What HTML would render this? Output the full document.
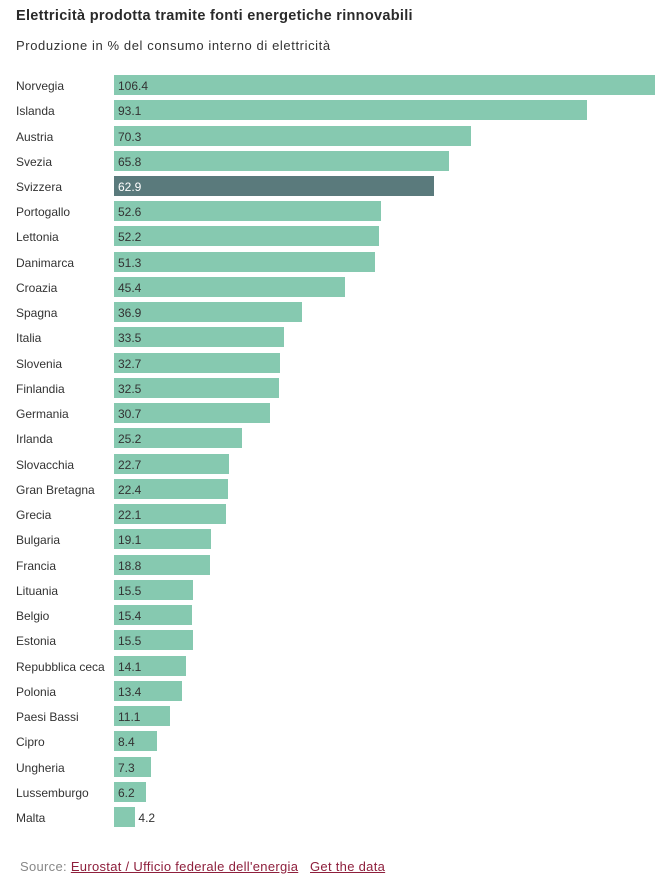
<!DOCTYPE html>
<html><head><meta charset="utf-8">
<style>
html,body{margin:0;padding:0;background:#fff;}
body{width:667px;height:886px;position:relative;overflow:hidden;font-family:"Liberation Sans",sans-serif;color:#333;}
.t{position:absolute;left:16px;top:8px;font-size:14.5px;font-weight:bold;color:#2a2a2a;white-space:nowrap;letter-spacing:0.3px;}
.s{position:absolute;left:16px;top:38px;font-size:13px;color:#333;white-space:nowrap;letter-spacing:0.6px;}
.l{position:absolute;left:16px;font-size:12px;line-height:20px;height:20px;white-space:nowrap;color:#333;}
.b{position:absolute;left:114px;height:20px;background:#86c9b0;}
.v{position:absolute;font-size:12px;line-height:20px;height:20px;white-space:nowrap;color:#333;}
.src{position:absolute;left:20px;top:859px;font-size:13px;color:#888;white-space:nowrap;letter-spacing:0.3px;}
.src a{color:#8e1f3c;text-decoration:underline;}
</style></head><body>
<div class="t">Elettricità prodotta tramite fonti energetiche rinnovabili</div>
<div class="s">Produzione in % del consumo interno di elettricità</div>
<div id="c"></div>
<div class="src">Source: <a>Eurostat / Ufficio federale dell'energia</a>&nbsp;&nbsp;&nbsp;<a>Get the data</a></div>
<script>
var d=[["Norvegia",106.4],["Islanda",93.1],["Austria",70.3],["Svezia",65.8],["Svizzera",62.9],["Portogallo",52.6],["Lettonia",52.2],["Danimarca",51.3],["Croazia",45.4],["Spagna",36.9],["Italia",33.5],["Slovenia",32.7],["Finlandia",32.5],["Germania",30.7],["Irlanda",25.2],["Slovacchia",22.7],["Gran Bretagna",22.4],["Grecia",22.1],["Bulgaria",19.1],["Francia",18.8],["Lituania",15.5],["Belgio",15.4],["Estonia",15.5],["Repubblica ceca",14.1],["Polonia",13.4],["Paesi Bassi",11.1],["Cipro",8.4],["Ungheria",7.3],["Lussemburgo",6.2],["Malta",4.2]];
var h="",k=541/106.4;
for(var i=0;i<d.length;i++){
 var y=(75+25.24*i).toFixed(1),w=(d[i][1]*k).toFixed(1);
 var dark=d[i][0]=="Svizzera";
 h+='<div class="l" style="top:'+(+y+1)+'px">'+d[i][0]+'</div>';
 h+='<div class="b" style="top:'+y+'px;width:'+w+'px;'+(dark?'background:#5a7a7c;':'')+'"></div>';
 var vx=d[i][1]<6?(114+ +w+3):118;
 h+='<div class="v" style="top:'+(+y+1)+'px;left:'+vx+'px;'+(dark?'color:#fff;':'')+'">'+d[i][1].toFixed(1)+'</div>';
}
document.getElementById("c").innerHTML=h;
</script>
</body></html>
